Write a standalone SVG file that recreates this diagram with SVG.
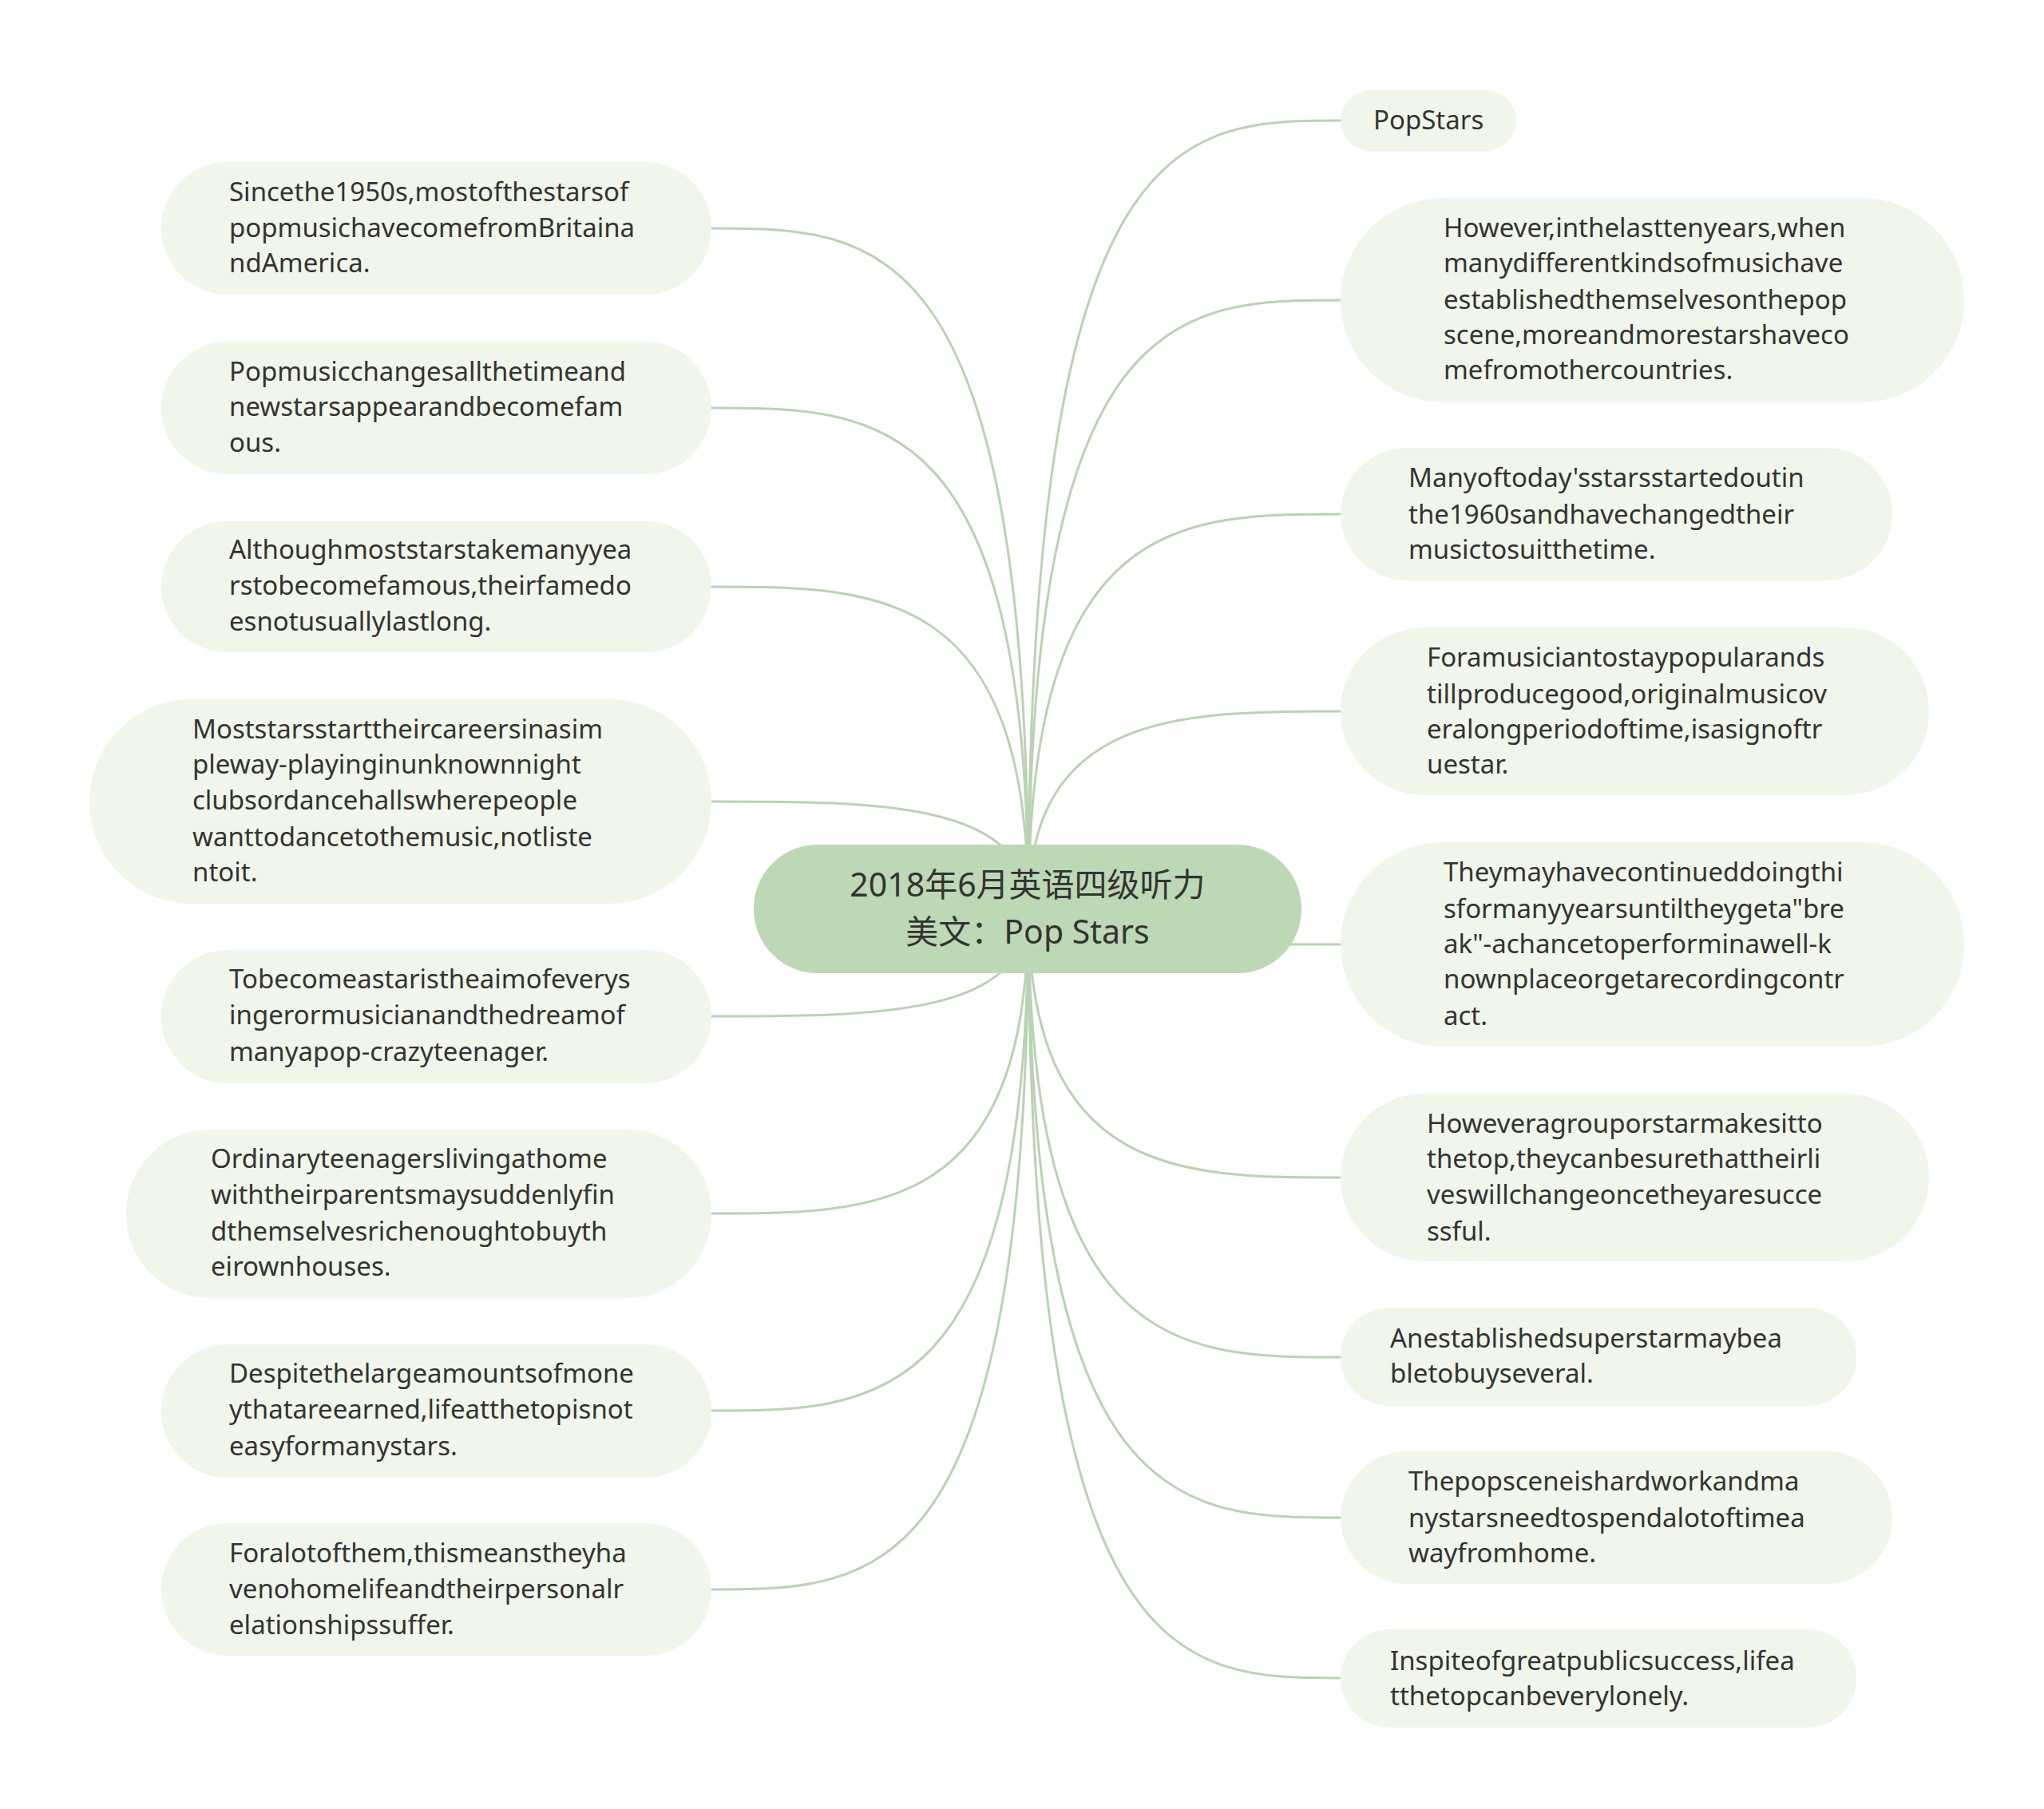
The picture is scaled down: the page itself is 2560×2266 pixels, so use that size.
<svg xmlns="http://www.w3.org/2000/svg" width="2560" height="2266" viewBox="0 0 2560 2266">
<style>
.n{fill:#f0f6e9}
.c{fill:#bdd8b5}
text{font-family:"Noto Sans","Noto Sans CJK SC",sans-serif;font-size:33px;fill:#333}
.t{font-size:41px}
#links path{fill:none;stroke:#b9d3b2;stroke-width:3}
</style>
<rect width="2560" height="2266" fill="#fff"/>
<g id="links">
<path d="M1288 1138 C1288 286,1100 286,891 286"/>
<path d="M1288 1138 C1288 511,1100 511,891 511"/>
<path d="M1288 1138 C1288 735,1100 735,891 735"/>
<path d="M1288 1138 C1288 1004,1100 1004,891 1004"/>
<path d="M1288 1138 C1288 1273,1100 1273,891 1273"/>
<path d="M1288 1138 C1288 1520,1100 1520,891 1520"/>
<path d="M1288 1138 C1288 1767,1100 1767,891 1767"/>
<path d="M1288 1138 C1288 1991,1100 1991,891 1991"/>
<path d="M1288 1138 C1288 151,1480 151,1679 151"/>
<path d="M1288 1138 C1288 376,1480 376,1679 376"/>
<path d="M1288 1138 C1288 644,1480 644,1679 644"/>
<path d="M1288 1138 C1288 891,1480 891,1679 891"/>
<path d="M1288 1138 C1288 1183,1480 1183,1679 1183"/>
<path d="M1288 1138 C1288 1475,1480 1475,1679 1475"/>
<path d="M1288 1138 C1288 1700,1480 1700,1679 1700"/>
<path d="M1288 1138 C1288 1901,1480 1901,1679 1901"/>
<path d="M1288 1138 C1288 2102,1480 2102,1679 2102"/>
</g>
<g id="center"><rect class="c" x="944" y="1058" width="686" height="161" rx="80"/>
<text class="t" x="1287" y="1123" text-anchor="middle">2018年6月英语四级听力</text>
<text class="t" x="1287" y="1182" text-anchor="middle">美文：Pop Stars</text></g>
<g id="L1"><rect class="n" x="202" y="203" width="689" height="166" rx="83"/><text x="287" y="252">Sincethe1950s,mostofthestarsof</text><text x="287" y="297">popmusichavecomefromBritaina</text><text x="287" y="341">ndAmerica.</text></g>
<g id="L2"><rect class="n" x="202" y="428" width="689" height="166" rx="83"/><text x="287" y="477">Popmusicchangesallthetimeand</text><text x="287" y="521">newstarsappearandbecomefam</text><text x="287" y="566">ous.</text></g>
<g id="L3"><rect class="n" x="202" y="653" width="689" height="164" rx="82"/><text x="287" y="700">Althoughmoststarstakemanyyea</text><text x="287" y="745">rstobecomefamous,theirfamedo</text><text x="287" y="790">esnotusuallylastlong.</text></g>
<g id="L4"><rect class="n" x="112" y="876" width="779" height="256" rx="128"/><text x="241" y="925">Moststarsstarttheircareersinasim</text><text x="241" y="969">pleway-playinginunknownnight</text><text x="241" y="1014">clubsordancehallswherepeople</text><text x="241" y="1060">wanttodancetothemusic,notliste</text><text x="241" y="1104">ntoit.</text></g>
<g id="L5"><rect class="n" x="202" y="1190" width="689" height="167" rx="83"/><text x="287" y="1238">Tobecomeastaristheaimofeverys</text><text x="287" y="1283">ingerormusicianandthedreamof</text><text x="287" y="1329">manyapop-crazyteenager.</text></g>
<g id="L6"><rect class="n" x="158" y="1415" width="733" height="211" rx="105"/><text x="264" y="1463">Ordinaryteenagerslivingathome</text><text x="264" y="1508">withtheirparentsmaysuddenlyfin</text><text x="264" y="1554">dthemselvesrichenoughtobuyth</text><text x="264" y="1598">eirownhouses.</text></g>
<g id="L7"><rect class="n" x="202" y="1684" width="689" height="167" rx="83"/><text x="287" y="1732">Despitethelargeamountsofmone</text><text x="287" y="1777">ythatareearned,lifeatthetopisnot</text><text x="287" y="1823">easyformanystars.</text></g>
<g id="L8"><rect class="n" x="202" y="1908" width="689" height="166" rx="83"/><text x="287" y="1957">Foralotofthem,thismeanstheyha</text><text x="287" y="2002">venohomelifeandtheirpersonalr</text><text x="287" y="2047">elationshipssuffer.</text></g>
<g id="R1"><rect class="n" x="1679" y="113" width="220" height="76" rx="38"/><text x="1720" y="162">PopStars</text></g>
<g id="R2"><rect class="n" x="1679" y="248" width="781" height="256" rx="128"/><text x="1808" y="297">However,inthelasttenyears,when</text><text x="1808" y="341">manydifferentkindsofmusichave</text><text x="1808" y="387">establishedthemselvesonthepop</text><text x="1808" y="431">scene,moreandmorestarshaveco</text><text x="1808" y="475">mefromothercountries.</text></g>
<g id="R3"><rect class="n" x="1679" y="561" width="691" height="166" rx="83"/><text x="1764" y="610">Manyoftoday'sstarsstartedoutin</text><text x="1764" y="656">the1960sandhavechangedtheir</text><text x="1764" y="700">musictosuitthetime.</text></g>
<g id="R4"><rect class="n" x="1679" y="786" width="737" height="210" rx="105"/><text x="1787" y="835">Foramusiciantostaypopularands</text><text x="1787" y="881">tillproducegood,originalmusicov</text><text x="1787" y="925">eralongperiodoftime,isasignoftr</text><text x="1787" y="969">uestar.</text></g>
<g id="R5"><rect class="n" x="1679" y="1055" width="781" height="256" rx="128"/><text x="1808" y="1104">Theymayhavecontinueddoingthi</text><text x="1808" y="1150">sformanyyearsuntiltheygeta"bre</text><text x="1808" y="1194">ak"-achancetoperforminawell-k</text><text x="1808" y="1238">nownplaceorgetarecordingcontr</text><text x="1808" y="1284">act.</text></g>
<g id="R6"><rect class="n" x="1679" y="1370" width="737" height="210" rx="105"/><text x="1787" y="1419">Howeveragrouporstarmakesitto</text><text x="1787" y="1463">thetop,theycanbesurethattheirli</text><text x="1787" y="1508">veswillchangeoncetheyaresucce</text><text x="1787" y="1554">ssful.</text></g>
<g id="R7"><rect class="n" x="1679" y="1638" width="646" height="123" rx="61"/><text x="1741" y="1688">Anestablishedsuperstarmaybea</text><text x="1741" y="1732">bletobuyseveral.</text></g>
<g id="R8"><rect class="n" x="1679" y="1818" width="691" height="166" rx="83"/><text x="1764" y="1867">Thepopsceneishardworkandma</text><text x="1764" y="1913">nystarsneedtospendalotoftimea</text><text x="1764" y="1957">wayfromhome.</text></g>
<g id="R9"><rect class="n" x="1679" y="2041" width="646" height="123" rx="61"/><text x="1741" y="2092">Inspiteofgreatpublicsuccess,lifea</text><text x="1741" y="2136">tthetopcanbeverylonely.</text></g>
</svg>
